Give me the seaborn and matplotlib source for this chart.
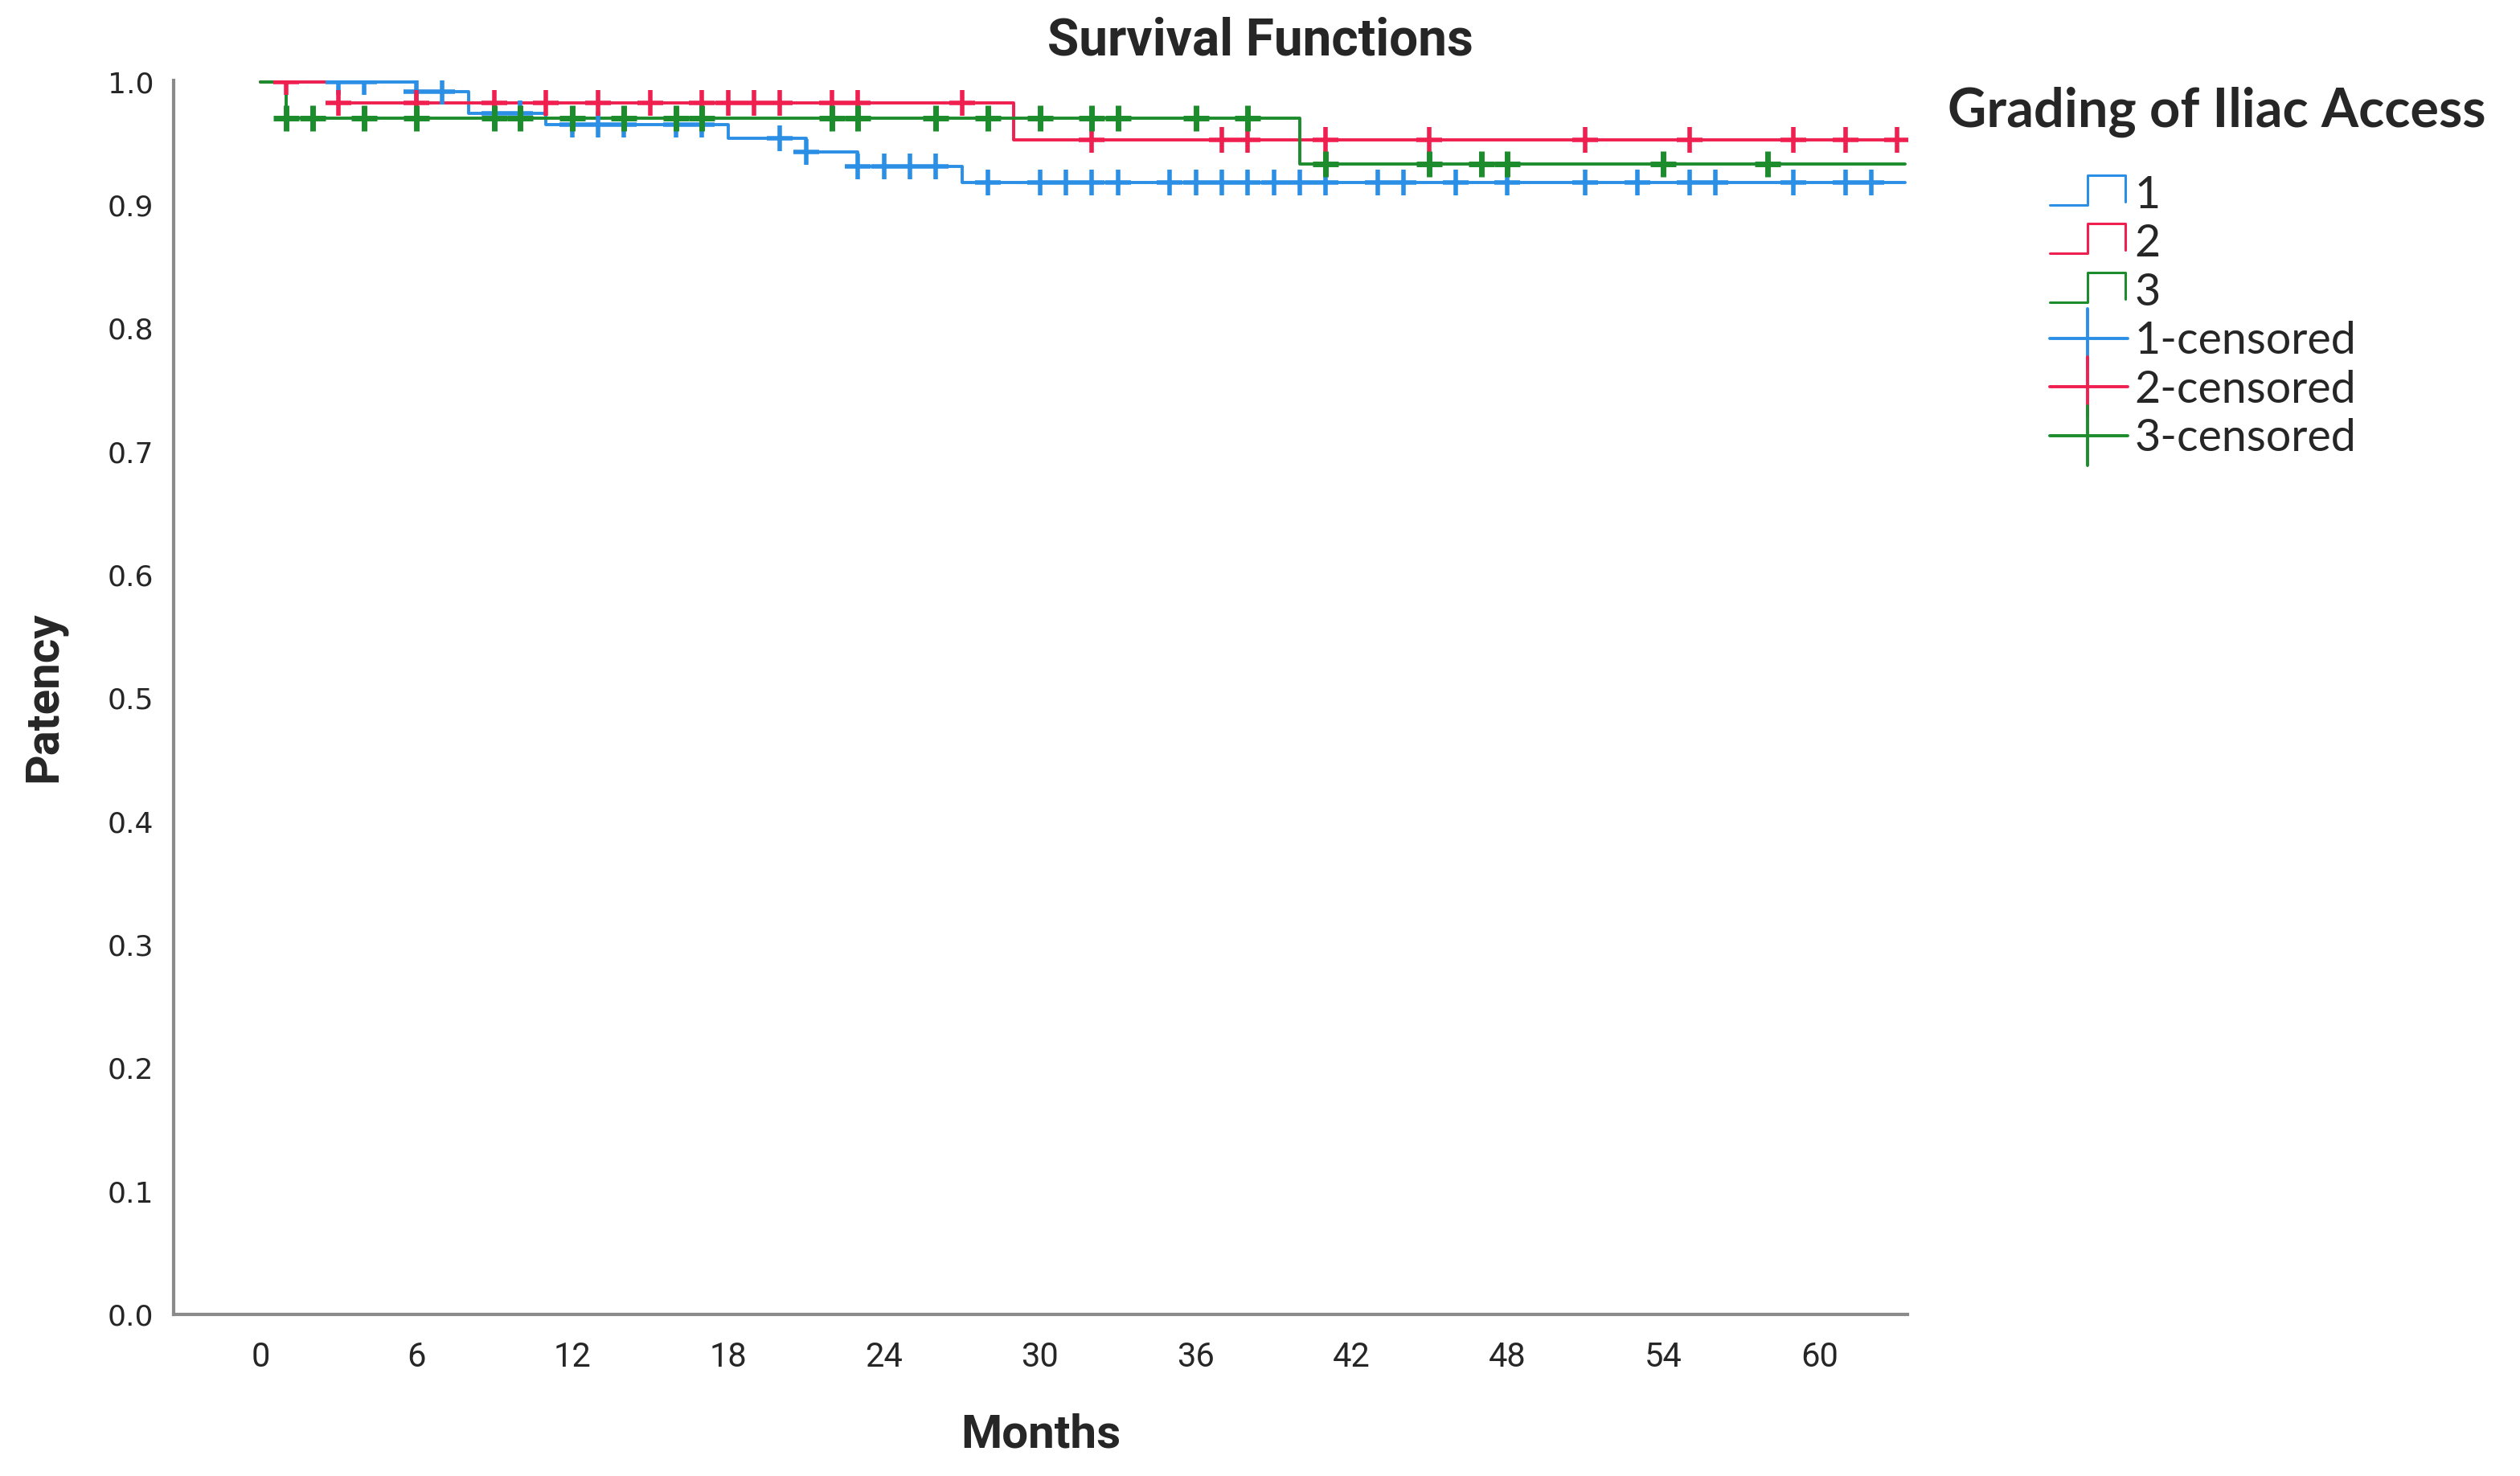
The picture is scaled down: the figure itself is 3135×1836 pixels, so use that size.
import matplotlib
matplotlib.use('Agg')
import matplotlib.pyplot as plt
import numpy as np
import pandas as pd
import seaborn as sns
from matplotlib.font_manager import FontProperties
from matplotlib.legend_handler import HandlerBase
from matplotlib.lines import Line2D

# Kaplan-Meier curves
FOLLOW_UP_END = 63.3
GRADES = ['1', '2', '3']
COLORS = {'1': '#2b8fe6', '2': '#ef1f4f', '3': '#1c8c2c'}

EVENTS_1 = [6, 8, 11, 18, 21, 23, 27]
SURV_1 = [0.992, 0.974, 0.965, 0.954, 0.943, 0.931, 0.918]
CENSOR_1 = [3, 4, 6, 7, 9, 10, 12, 13, 14, 16, 17, 20, 21, 23, 24, 25, 26, 28, 30, 31, 32, 33,
            35, 36, 37, 38, 39, 40, 41, 43, 44, 46, 48, 51, 53, 55, 56, 59, 61, 62]

EVENTS_2 = [3, 29]
SURV_2 = [0.983, 0.953]
CENSOR_2 = [1, 3, 6, 9, 11, 13, 15, 17, 18, 19, 20, 22, 23, 27, 32, 37, 38, 41, 45, 51, 55, 59, 61, 63]

EVENTS_3 = [1, 40]
SURV_3 = [0.9705, 0.933]
CENSOR_3 = [1, 2, 4, 6, 9, 10, 12, 14, 16, 17, 22, 23, 26, 28, 30, 32, 33, 36, 38, 41, 45, 47, 48, 54, 58]

X_TICKS = list(range(0, 61, 6))
Y_TICKS = [0.0, 0.1, 0.2, 0.3, 0.4, 0.5, 0.6, 0.7, 0.8, 0.9, 1.0]

CONDENSED = ['Liberation Sans Narrow', 'Roboto', 'DejaVu Sans']


class StepHandler(HandlerBase):
    """Legend key drawn as a small step, like SPSS does."""
    def create_artists(self, legend, orig_handle, xdescent, ydescent, width, height, fontsize, trans):
        xs = np.array([0.0, 0.48, 0.48, 0.97, 0.97]) * width - xdescent
        ys = np.array([0.1, 0.1, 1.05, 1.05, 0.2]) * height - ydescent
        line = Line2D(xs, ys, color=orig_handle.get_color(), lw=1.1, transform=trans)
        return [line]


class CrossHandler(HandlerBase):
    """Legend key for censored marks: long horizontal bar with a vertical tick."""
    def create_artists(self, legend, orig_handle, xdescent, ydescent, width, height, fontsize, trans):
        c = orig_handle.get_color()
        h = Line2D([-xdescent, width - xdescent], [0.5 * height - ydescent] * 2,
                   color=c, lw=orig_handle.get_linewidth(), transform=trans)
        v = Line2D([0.48 * width - xdescent] * 2, [-0.45 * height - ydescent, 1.45 * height - ydescent],
                   color=c, lw=orig_handle.get_linewidth(), transform=trans)
        return [h, v]


def step_frame(grade, events, surv):
    xs = [0.0] + list(events) + [FOLLOW_UP_END]
    ys = [1.0] + list(surv) + [surv[-1]]
    return pd.DataFrame({'months': xs, 'patency': ys, 'grade': grade})


def censor_frame(grade, events, surv, censor):
    levels = np.array([1.0] + list(surv))
    idx = np.searchsorted(np.array(events), np.array(censor), side='right')
    return pd.DataFrame({'months': censor, 'patency': levels[idx], 'grade': grade})


def main():
    sns.set_style('white')
    plt.rcParams['font.family'] = ['Lato', 'DejaVu Sans']

    groups = {'1': (EVENTS_1, SURV_1, CENSOR_1),
              '2': (EVENTS_2, SURV_2, CENSOR_2),
              '3': (EVENTS_3, SURV_3, CENSOR_3)}

    fig = plt.figure(figsize=(15.675, 9.18), dpi=200)
    ax = fig.add_axes([0.069, 0.1095, 0.688, 0.836])

    steps = pd.concat([step_frame(g, *groups[g][:2]) for g in GRADES], ignore_index=True)
    sns.lineplot(data=steps, x='months', y='patency', hue='grade', hue_order=GRADES,
                 palette=COLORS, drawstyle='steps-post', estimator=None, sort=False,
                 lw=1.4, legend=False, ax=ax)

    for g in GRADES:
        cens = censor_frame(g, *groups[g])
        sns.scatterplot(data=cens, x='months', y='patency', marker='+', s=140,
                        color=COLORS[g], linewidth=2.5 if g == '3' else 2.0,
                        legend=False, ax=ax, zorder=4)

    ax.set_xlim(-3.33, 63.4)
    ax.set_ylim(0.0, 1.001)
    ax.set_xticks(X_TICKS)
    ax.set_xticklabels([str(t) for t in X_TICKS], fontsize=15, family=CONDENSED)
    ax.set_yticks(Y_TICKS)
    ax.set_yticklabels([f'{t:.1f}' for t in Y_TICKS], fontsize=13, family='DejaVu Sans')
    ax.tick_params(axis='both', length=0)
    ax.tick_params(axis='x', pad=12)
    ax.tick_params(axis='y', pad=9)
    ax.set_xlabel('')
    ax.set_ylabel('')
    sns.despine(ax=ax)
    for side in ['left', 'bottom']:
        ax.spines[side].set_color('#8a8a8a')
        ax.spines[side].set_linewidth(1.5)

    fig.text(0.5, 0.972, 'Survival Functions', ha='center', va='center',
             fontsize=23, fontweight='bold', family=CONDENSED)
    fig.text(0.0175, 0.528, 'Patency', ha='center', va='center', rotation=90,
             fontsize=21, fontweight='bold', family=CONDENSED)
    fig.text(0.413, 0.028, 'Months', ha='center', va='center',
             fontsize=21, fontweight='bold', family=CONDENSED)

    # legend title sits apart from the keys, as in the SPSS output
    fig.text(0.773, 0.924, 'Grading of Iliac Access', ha='left', va='center',
             fontsize=24, fontweight='bold', family='Lato')
    step_keys = [Line2D([], [], color=COLORS[g], lw=1.1) for g in GRADES]
    cross_keys = [Line2D([], [], color=COLORS[g], lw=1.4) for g in GRADES]
    handler_map = {h: StepHandler() for h in step_keys}
    handler_map.update({h: CrossHandler() for h in cross_keys})
    labels = GRADES + [f'{g}-censored' for g in GRADES]
    fig.legend(step_keys + cross_keys, labels, handler_map=handler_map,
               loc='upper left', bbox_to_anchor=(0.8045, 0.8965), bbox_transform=fig.transFigure,
               frameon=False, borderpad=0, handlelength=1.75, handletextpad=0.15,
               labelspacing=0.17, prop=FontProperties(family='Lato', size=20))

    fig.savefig('out.png', dpi=200)


if __name__ == '__main__':
    main()
